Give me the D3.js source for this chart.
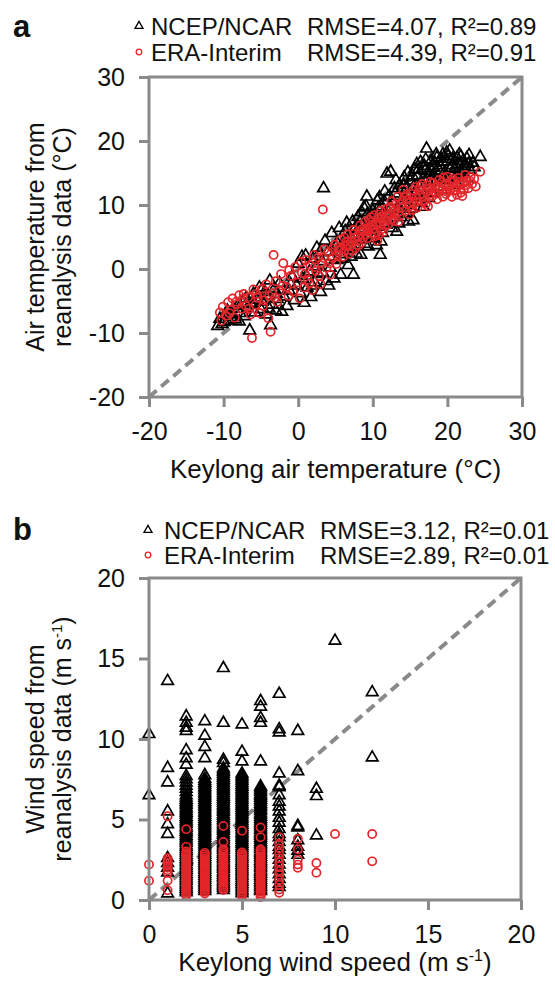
<!DOCTYPE html>
<html>
<head>
<meta charset="utf-8">
<script src="https://cdnjs.cloudflare.com/ajax/libs/d3/7.8.5/d3.min.js"></script>
<style>
body { margin: 0; background: #fff; }
svg text { font-family: "Liberation Sans", Arial, sans-serif; fill: #111; }
</style>
</head>
<body>
<svg id="chart" width="555" height="981"></svg>
<script>
// panel a: [Keylong air temperature, reanalysis air temperature] in degC
var airNcep = [
    [-10.8,-8.9],[-10.5,-7.8],[-10.2,-8.6],[-9.9,-8.3],[-9.8,-7.2],[-9.5,-6.5],[-9.3,-8.1],[-9,-7.5],[-8.9,-7.1],
    [-8.7,-6.2],[-8.4,-7.9],[-8.1,-5.8],[-7.9,-8.2],[-7.8,-6.9],[-7.5,-5.2],[-7.2,-7.4],[-7,-4.6],[-6.9,-5.4],
    [-6.8,-6.1],[-6.5,-9.6],[-6.3,-5.5],[-6,-3.9],[-5.9,-5.3],[-5.8,-6.8],[-5.5,-4.8],[-5.2,-2.9],[-5,-6.3],
    [-4.9,-3.3],[-4.8,-5.1],[-4.5,-3.6],[-4.3,-7.1],[-4,-4.2],[-3.9,-6.2],[-3.8,-1.8],[-3.7,-8.8],[-3.5,-5.6],
    [-3.2,-3.1],[-3,-6.5],[-2.9,-3.9],[-2.8,-4.7],[-2.5,-2.2],[-2.2,-6.7],[-1.9,-4.3],
    [-1.5,-5.8],[-1.2,-3.4],[-1,-2.4],[-0.8,-1.2],[-0.5,-4.9],[-0.2,-2.6],[0,0.8],[0.3,-3.8],[0.5,1.9],
    [0.6,-1.5],[0.8,-5.3],[1,2.1],[1.1,-1.1],[1.2,-2.9],[1.5,-0.4],[1.7,-4.4],[1.9,-2.6],[2,1.6],[2.2,-2.1],
    [2.4,0.4],[2.5,3.3],[2.7,-0.8],[2.9,2.6],[3,-3.6],[3.2,1.2],[3.3,-0.6],[3.4,12.6],[3.6,4.4],[3.8,-1.9],
    [4,2.7],[4.1,-2.6],[4.3,0.2],[4.5,5.6],[4.6,1.9],[4.8,-1.5],[5,3.6],[5.2,1.4],[5.3,3.9],[5.5,6.4],
    [5.7,-0.9],[5.9,1.6],[6,4.1],[6.1,3.3],[6.2,2.3],[6.3,5.9],[6.5,7.2],[6.6,4.8],[6.7,0.6],[6.9,3.1],
    [7,5.1],[7.1,1.9],[7.2,3.4],[7.3,7.4],[7.4,-0.9],[7.6,6.3],[7.7,5.2],[7.8,2.4],
    [8,8.1],[8.1,6.3],[8.2,4.6],[8.3,7.4],[8.4,2.2],[8.5,8.9],[8.6,6.9],[8.7,5.8],[8.8,9.6],[8.9,3.9],
    [9,5.2],[9.1,9.8],[9.2,11.3],[9.3,8.6],[9.4,3.5],[9.5,6.9],[9.6,7.8],[9.7,5.4],[9.8,6.1],[9.9,8.3],
    [10,9.1],[10.1,7.6],[10.2,4.8],[10.3,6.1],[10.4,8.4],[10.5,3.7],[10.6,10.7],[10.7,9.5],[10.8,6.6],
    [10.9,11.2],[11,2.2],[11.1,4.3],[11.2,9.8],[11.3,5.6],[11.4,7.2],[11.5,10.6],[11.6,12.1],[11.7,8.7],
    [11.8,6.9],[11.9,14.9],[12.1,8.9],[12.2,11.4],[12.3,9.8],[12.4,15.2],[12.6,6.4],[12.7,8.1],[12.8,10.5],
    [12.9,12.6],[13,11.8],[13.1,13.9],[13.2,5.8],[13.3,8.6],[13.4,9.4],[13.5,7.1],[13.6,13.1],[13.7,10.2],
    [13.8,8.1],[13.9,12.4],[14,11.1],[14.1,13.2],[14.2,14.3],[14.3,10.7],[14.4,9.9],[14.5,8.7],[14.6,12.7],
    [14.7,15.1],[14.8,7.4],[14.9,11.6],[15,13.8],[15.1,9.4],[15.2,10.6],[15.3,14.6],[15.4,7.6],[15.5,12.9],
    [15.6,15.6],[15.7,11.8],[15.8,12.3],[15.9,16.4],[16,14.4],[16.1,15.5],[16.2,11.2],[16.3,10.4],[16.4,16.7],
    [16.5,12.1],[16.6,13.4],[16.7,14.1],[16.8,9.7],[16.9,16.1],[17,15.3],[17.1,17.1],[17.2,18.8],[17.3,13.9],
    [17.4,12.8],[17.5,11.1],[17.6,14.9],[17.7,15.7],[17.8,16.9],[17.9,13.8],[18,11.9],[18.1,14.7],[18.2,15.8],
    [18.3,16.6],[18.4,13.6],[18.5,17.9],[18.6,17.4],[18.7,12.9],[18.8,14.6],[18.9,15.4],[19,16.2],[19.1,17.2],
    [19.2,12.4],[19.3,16.7],[19.4,17.9],[19.5,14.1],[19.6,15.1],[19.7,14.6],[19.8,13.9],[19.9,18.2],[20,16.8],
    [20.1,17.6],[20.3,18.5],[20.4,15.6],[20.5,14.7],[20.6,16.2],[20.7,17.2],[20.8,13.1],[21,15.8],[21.1,14.4],
    [21.2,13.5],[21.3,17.4],[21.5,16.4],[21.6,17.9],[21.7,15.2],[21.8,17.6],[22,14.9],[22.1,16.9],[22.2,15.5],
    [22.3,16.1],[22.5,14.2],[22.6,17.3],[22.8,16.4],[22.9,17.8],[23,15.5],[23.4,16.6],[23.6,15.9],[24.4,17.5]
];
var airEra = [
    [-10.5,-6.8],[-10.3,-8.1],[-10.1,-5.9],[-9.7,-7.3],[-9.4,-5.2],[-9.2,-6.9],[-9.1,-6.4],[-8.8,-4.6],
    [-8.5,-7.6],[-8.3,-5.1],[-8.2,-5.5],[-7.9,-4.1],[-7.6,-6.2],[-7.4,-4.6],[-7.3,-3.9],[-7,-5.8],[-6.7,-4.4],
    [-6.6,-6.2],[-6.4,-7.1],[-6.2,-10.8],[-6,-3.2],[-5.7,-5.6],[-5.6,-3.9],[-5.4,-4.5],[-5.1,-6.9],[-4.8,-3.1],
    [-4.7,-5.8],[-4.6,-4.9],[-4.3,-2.4],[-4,-7.7],[-3.9,-4.2],[-3.7,-9.8],[-3.5,-3.8],[-3.3,2.2],[-3.1,-4.5],
    [-3,-1.9],[-2.8,-5.1],[-2.5,-3.4],[-2.3,-0.8],[-2.1,-2.6],[-2,0.9],
    [-1.6,-2.8],[-1.3,-4.2],[-1.2,-0.2],[-1,-1.1],[-0.7,-3.5],[-0.4,0.3],[-0.1,-2.1],[0.2,-4.6],[0.4,1.1],
    [0.5,-0.6],[0.8,-2.9],[0.9,-0.8],[1,1.4],[1.3,-1.7],[1.5,-2.3],[1.6,0.6],[1.9,-3.3],[2.1,2.2],[2.2,0.3],
    [2.4,-0.3],[2.7,1.8],[2.8,-1.1],[3,-2.4],[3.2,0.9],[3.3,9.3],[3.4,1.7],[3.5,3.1],[3.8,0.2],[4,2.6],
    [4.2,0.9],[4.3,-0.9],[4.6,1.7],[4.7,3.2],[4.9,3.8],[5.1,0.8],[5.2,2.1],[5.4,2.9],[5.5,3.4],[5.7,4.6],
    [5.8,3.1],[6,1.9],[6.1,2.7],[6.2,4.9],[6.3,3.6],[6.5,4.3],[6.6,5.4],[6.7,3.8],[6.8,2.4],[7,3.6],
    [7.1,4.2],[7.2,2.8],[7.4,6.1],[7.5,5.5],[7.6,4.9],[7.7,3.3],[7.9,4.4],[8,5.2],[8.1,3.7],[8.2,5.9],
    [8.3,6.8],[8.5,4.1],[8.6,6.2],[8.7,4.9],[8.8,5.9],[9,7.4],[9.1,5.4],[9.2,6.3],[9.3,4.8],[9.4,5.9],
    [9.5,7.7],[9.6,6.5],[9.7,7.3],[9.8,8.1],[9.9,6.8],[10,6.2],[10.1,5.6],[10.2,8.4],[10.3,5.1],[10.4,7.1],
    [10.5,6.9],[10.6,4.4],[10.7,7.9],[10.8,5.3],[10.9,8.5],[11,7.3],[11.1,9.1],[11.2,6.2],[11.3,8.2],
    [11.4,5.8],[11.5,7.8],[11.6,6.7],[11.8,9.4],[11.9,7.6],[12,6.9],[12.1,8.1],[12.3,8.6],[12.4,9.7],
    [12.5,10.6],[12.6,7.8],[12.8,7.5],[12.9,8.6],[13,9.2],[13.1,10.1],[13.3,11.3],[13.4,7.4],[13.5,8.9],
    [13.6,8.3],[13.8,10.1],[13.9,9.6],[14,10.7],[14.1,12.4],[14.2,11.2],[14.4,9.1],[14.5,11.6],[14.6,10.8],
    [14.8,10.3],[14.9,8.5],[15,9.9],[15.2,11.7],[15.3,9.2],[15.4,12.3],[15.5,10.2],[15.7,12.8],[15.8,11.1],
    [15.9,10.5],[16,9.6],[16.2,12.4],[16.3,11.5],[16.4,12.9],[16.6,13.3],[16.7,11.7],[16.8,11.2],[16.9,10.6],
    [17.1,10.2],[17.2,12.1],[17.3,13.1],[17.4,9.8],[17.6,12.6],[17.7,13.6],[17.8,11.8],[18,11.4],[18.1,13.4],
    [18.2,12.1],[18.3,12.7],[18.5,11.8],[18.6,10.9],[18.8,12.9],[18.9,13.9],[19,12.6],[19.2,12.2],[19.3,13.6],
    [19.4,11.3],[19.5,14.3],[19.7,13.1],[19.8,11.7],[19.9,12.1],[20,14.4],[20.2,13.1],[20.3,12.5],[20.4,13.6],
    [20.6,11.3],[20.7,14.1],[20.8,12.2],[20.9,13.7],[21.1,12.3],[21.2,12.9],[21.3,11.6],[21.5,14.2],
    [21.6,13.6],[21.7,13.2],[21.8,11.9],[22,11.4],[22.1,13.4],[22.2,12.4],[22.4,14.7],[22.5,13.1],[22.6,13.8],
    [22.8,12.6],[23,13.8],[23.1,14.4],[23.3,13.3],[23.6,14.1],[23.8,12.9],[24.4,15.2]
];

// panel b: Keylong wind speed is reported in whole m/s, so one list of reanalysis values per column
var windNcep = [
    [0, [10.3, 6.5]],
    [1, [13.6, 8.2, 7.3, 5.5, 4.7, 4.1, 2.6, 2.3, 2.0, 1.7, 0.4]],
    [2, [11.4, 11.0, 10.7, 10.5, 9.3, 8.8, 8.4, 7.7, 7.5, 7.3, 7.1, 6.9, 6.7, 6.5,
         6.36, 6.23, 6.12, 6.0, 5.89, 5.76, 5.65, 5.53, 5.41, 5.3, 5.17, 5.06, 4.94, 4.82, 4.71, 4.58, 4.47,
         4.35, 4.23, 4.12, 3.99, 3.88, 3.76, 3.64, 3.53, 3.4, 3.29, 3.17, 3.05, 2.94, 2.81, 2.7, 2.58, 2.46,
         2.35, 2.22, 2.11, 1.99, 1.87, 1.76, 1.63, 1.52, 1.4, 1.28, 1.17, 1.04, 0.93, 0.81, 0.69, 0.58, 0.47]],
    [3, [11.1, 10.2, 9.5, 8.8, 7.75,
         7.52, 7.4, 7.28, 7.17, 7.04, 6.93, 6.81, 6.69, 6.58, 6.45, 6.34, 6.22, 6.1, 5.99, 5.86, 5.75, 5.63,
         5.51, 5.4, 5.27, 5.16, 5.04, 4.92, 4.81, 4.68, 4.57, 4.45, 4.33, 4.22, 4.09, 3.98, 3.86, 3.74, 3.63,
         3.5, 3.39, 3.27, 3.15, 3.04, 2.91, 2.8, 2.68, 2.56, 2.45, 2.32, 2.21, 2.09, 1.97, 1.86, 1.73, 1.62,
         1.5, 1.38, 1.27, 1.14, 1.03, 0.91, 0.79, 0.68, 0.55]],
    [4, [14.4, 11.0, 8.7, 8.5,
         8.18, 8.06, 7.95, 7.83, 7.7, 7.59, 7.47, 7.35, 7.24, 7.11, 7.0, 6.88, 6.76, 6.65, 6.52, 6.41, 6.29,
         6.17, 6.06, 5.93, 5.82, 5.7, 5.58, 5.47, 5.34, 5.23, 5.11, 4.99, 4.88, 4.75, 4.64, 4.52, 4.4, 4.29,
         4.16, 4.05, 3.93, 3.81, 3.7, 3.57, 3.46, 3.34, 3.22, 3.11, 2.98, 2.87, 2.75, 2.63, 2.52, 2.39, 2.28,
         2.16, 2.04, 1.93, 1.8, 1.69, 1.57, 1.45, 1.34, 1.21, 1.1, 0.98, 0.86, 0.75, 0.62]],
    [5, [10.9, 9.2, 8.6,
         7.85, 7.73, 7.62, 7.5, 7.38, 7.27, 7.14, 7.03, 6.91, 6.79, 6.68, 6.55, 6.44, 6.32, 6.2, 6.09, 5.96,
         5.85, 5.73, 5.61, 5.5, 5.37, 5.26, 5.14, 5.02, 4.91, 4.78, 4.67, 4.55, 4.43, 4.32, 4.19, 4.08, 3.96,
         3.84, 3.73, 3.6, 3.49, 3.37, 3.25, 3.14, 3.01, 2.9, 2.78, 2.66, 2.55, 2.42, 2.31, 2.19, 2.07, 1.96,
         1.83, 1.72, 1.6, 1.48, 1.37, 1.24, 1.13, 1.01, 0.89, 0.78, 0.65, 0.54, 0.42]],
    [6, [12.35, 12.0, 11.3, 11.0, 8.6,
         7.05, 6.93, 6.81, 6.7, 6.57, 6.46, 6.34, 6.22, 6.11, 5.98, 5.87, 5.75, 5.63, 5.52, 5.39, 5.28, 5.16,
         5.04, 4.93, 4.8, 4.69, 4.57, 4.45, 4.34, 4.21, 4.1, 3.98, 3.86, 3.75, 3.62, 3.51, 3.39, 3.27, 3.16,
         3.03, 2.92, 2.8, 2.68, 2.57, 2.44, 2.33, 2.21, 2.09, 1.98, 1.85, 1.74, 1.62, 1.5, 1.39, 1.26, 1.15,
         1.03, 0.91, 0.8, 0.67, 0.56]],
    [7, [12.8, 10.6, 10.4, 7.85, 7.1, 7.0, 6.5, 6.1, 5.8, 5.5, 5.1, 4.8, 4.4, 4.1, 3.9, 3.6, 3.3, 3.1, 2.8,
         2.5, 2.2, 1.9, 1.6, 1.3, 1.0, 0.8]],
    [8, [10.5, 8.0, 4.6, 4.5, 3.7, 3.3, 3.05, 2.8]],
    [9, [6.9, 6.45, 4.0]],
    [10, [16.1]],
    [12, [12.9, 8.85]]
];
var windEra = [
    [0, [2.2, 1.2]],
    [1, [5.2, 2.6, 2.45, 2.3, 2.15, 2.0, 1.85, 1.7, 1.2, 0.6]],
    [2, [4.4, 3.3, 3.02, 2.91, 2.8, 2.69, 2.58, 2.47, 2.36, 2.25, 2.14, 2.03, 1.92, 1.81, 1.7, 1.59, 1.48,
         1.37, 1.26, 1.15, 1.04, 0.93, 0.82, 0.71, 0.6, 0.49, 0.38, 0.27]],
    [3, [2.93, 2.82, 2.71, 2.6, 2.49, 2.38, 2.27, 2.16, 2.05, 1.94, 1.83, 1.72, 1.61, 1.5, 1.39, 1.28, 1.17,
         1.06, 0.95, 0.84, 0.73, 0.62, 0.51, 0.4]],
    [4, [4.6, 3.6, 3.15, 3.04, 2.93, 2.82, 2.71, 2.6, 2.49, 2.38, 2.27, 2.16, 2.05, 1.94, 1.83, 1.72, 1.61,
         1.5, 1.39, 1.28, 1.17, 1.06, 0.95, 0.84, 0.73, 0.62]],
    [5, [4.3, 2.95, 2.84, 2.73, 2.62, 2.51, 2.4, 2.29, 2.18, 2.07, 1.96, 1.85, 1.74, 1.63, 1.52, 1.41, 1.3,
         1.19, 1.08, 0.97, 0.86, 0.75, 0.64, 0.53, 0.42, 0.31, 0.22]],
    [6, [4.5, 3.9, 3.15, 3.04, 2.93, 2.82, 2.71, 2.6, 2.49, 2.38, 2.27, 2.16, 2.05, 1.94, 1.83, 1.72, 1.61,
         1.5, 1.39, 1.28, 1.17, 1.06, 0.95, 0.84, 0.73, 0.62, 0.51, 0.4, 0.3, 0.18]],
    [7, [3.9, 3.5, 3.2, 2.9, 2.6, 2.35, 2.1, 1.8, 1.55, 1.25, 0.95, 0.65, 0.45]],
    [8, [3.8, 3.15, 2.5, 2.2, 2.0]],
    [9, [2.3, 1.7]],
    [10, [4.1]],
    [12, [4.1, 2.4]]
];

var airTicks = [-20, -10, 0, 10, 20, 30];
var windTicks = [0, 5, 10, 15, 20];
var seriesNames = ['NCEP/NCAR', 'ERA-Interim'];
var airStats = ['RMSE=4.07, R\u00b2=0.89', 'RMSE=4.39, R\u00b2=0.91'];
var windStats = ['RMSE=3.12, R\u00b2=0.01', 'RMSE=2.89, R\u00b2=0.01'];

var AXIS = '#8a8a8a',
    RED = '#e3262b',
    FONT = '"Liberation Sans", Arial, sans-serif',
    svg = d3.select('#chart');

function columnsToPoints(cols) {
    var pts = [];
    cols.forEach(function (c) {
        c[1].forEach(function (v) { pts.push([c[0], v]); });
    });
    return pts;
}

var triangle = d3.symbol().type(d3.symbolTriangle).size(58),
    smallTriangle = d3.symbol().type(d3.symbolTriangle).size(28);

function drawPanel(p) {
    var x = d3.scaleLinear().domain(p.domain).range(p.xRange),
        y = d3.scaleLinear().domain(p.domain).range(p.yRange),
        g = svg.append('g');

    // 1:1 line
    g.append('line')
        .attr('x1', x(p.domain[0])).attr('y1', y(p.domain[0]))
        .attr('x2', x(p.domain[1])).attr('y2', y(p.domain[1]))
        .style('stroke', AXIS)
        .style('stroke-width', 4)
        .style('stroke-dasharray', '10,6');

    g.append('g').selectAll('path')
        .data(p.ncep)
      .enter().append('path')
        .attr('d', triangle)
        .attr('transform', function (d) { return 'translate(' + x(d[0]) + ',' + y(d[1]) + ')'; })
        .style('fill', 'none')
        .style('stroke', '#000')
        .style('stroke-width', 1.7);

    g.append('g').selectAll('circle')
        .data(p.era)
      .enter().append('circle')
        .attr('cx', function (d) { return x(d[0]); })
        .attr('cy', function (d) { return y(d[1]); })
        .attr('r', 4.1)
        .style('fill', 'none')
        .style('stroke', RED)
        .style('stroke-width', 1.7);

    // frame
    g.append('rect')
        .attr('x', p.xRange[0]).attr('y', p.yRange[1])
        .attr('width', p.xRange[1] - p.xRange[0])
        .attr('height', p.yRange[0] - p.yRange[1])
        .style('fill', 'none')
        .style('stroke', AXIS)
        .style('stroke-width', 3);

    var fmt = function (d) { return String(d); };
    var xAxis = g.append('g')
        .attr('transform', 'translate(0,' + p.yRange[0] + ')')
        .call(d3.axisBottom(x).tickValues(p.ticks).tickFormat(fmt).tickSize(10).tickPadding(15));
    var yAxis = g.append('g')
        .attr('transform', 'translate(' + p.xRange[0] + ',0)')
        .call(d3.axisLeft(y).tickValues(p.ticks).tickFormat(fmt).tickSize(10).tickPadding(14));

    [xAxis, yAxis].forEach(function (a) {
        a.select('.domain').remove();
        a.selectAll('line').style('stroke', AXIS).style('stroke-width', 3);
        a.selectAll('text').style('font-size', '25px').style('font-family', FONT).attr('fill', '#111');
    });

    // panel letter
    g.append('text')
        .attr('x', 13).attr('y', p.letterY)
        .style('font-size', '31px').style('font-weight', 'bold')
        .text(p.letter);

    // legend
    p.stats.forEach(function (s, i) {
        var cy = p.legendY + i * p.legendGap;
        if (i === 0) {
            g.append('path')
                .attr('d', smallTriangle)
                .attr('transform', 'translate(' + p.legendX + ',' + cy + ')')
                .style('fill', 'none').style('stroke', '#000').style('stroke-width', 1.3);
        } else {
            g.append('circle')
                .attr('cx', p.legendX).attr('cy', cy).attr('r', 2.8)
                .style('fill', 'none').style('stroke', RED).style('stroke-width', 1.3);
        }
        g.append('text')
            .attr('x', p.legendX + p.nameOffset).attr('y', cy + 8.5)
            .style('font-size', '24px')
            .text(seriesNames[i]);
        g.append('text')
            .attr('x', p.legendX + p.statOffset).attr('y', cy + 8.5)
            .style('font-size', '24px')
            .text(s);
    });

    // axis titles
    var xt = g.append('text')
        .attr('x', (p.xRange[0] + p.xRange[1]) / 2).attr('y', p.xTitleY)
        .attr('text-anchor', 'middle')
        .style('font-size', '26px')
        .text(p.xTitle);
    if (p.unitSup) {
        xt.append('tspan').attr('dy', -10).style('font-size', '16px').text(p.unitSup);
        xt.append('tspan').attr('dy', 10).text(')');
    }

    var midY = (p.yRange[0] + p.yRange[1]) / 2;
    p.yTitle.forEach(function (line, i) {
        var t = g.append('text')
            .attr('transform', 'translate(' + (44 + i * 27) + ',' + midY + ') rotate(-90)')
            .attr('text-anchor', 'middle')
            .style('font-size', '25px')
            .text(line);
        if (p.unitSup && i === 1) {
            t.append('tspan').attr('dy', -9).style('font-size', '15px').text(p.unitSup);
            t.append('tspan').attr('dy', 9).text(')');
        }
    });
}

drawPanel({
    letter: 'a', letterY: 37,
    domain: [-20, 30], ticks: airTicks,
    xRange: [149, 522], yRange: [397, 77],
    ncep: airNcep, era: airEra, stats: airStats,
    legendX: 139, legendY: 26, legendGap: 26, nameOffset: 12, statOffset: 168,
    xTitle: 'Keylong air temperature (\u00b0C)', xTitleY: 478,
    yTitle: ['Air temperature from', 'reanalysis data (\u00b0C)']
});

drawPanel({
    letter: 'b', letterY: 540,
    domain: [0, 20], ticks: windTicks,
    xRange: [149, 521], yRange: [900, 578],
    ncep: columnsToPoints(windNcep), era: columnsToPoints(windEra), stats: windStats,
    legendX: 148, legendY: 530, legendGap: 25, nameOffset: 16, statOffset: 172,
    xTitle: 'Keylong wind speed (m s', xTitleY: 971, unitSup: '-1',
    yTitle: ['Wind speed from', 'reanalysis data (m s']
});
</script>
</body>
</html>
